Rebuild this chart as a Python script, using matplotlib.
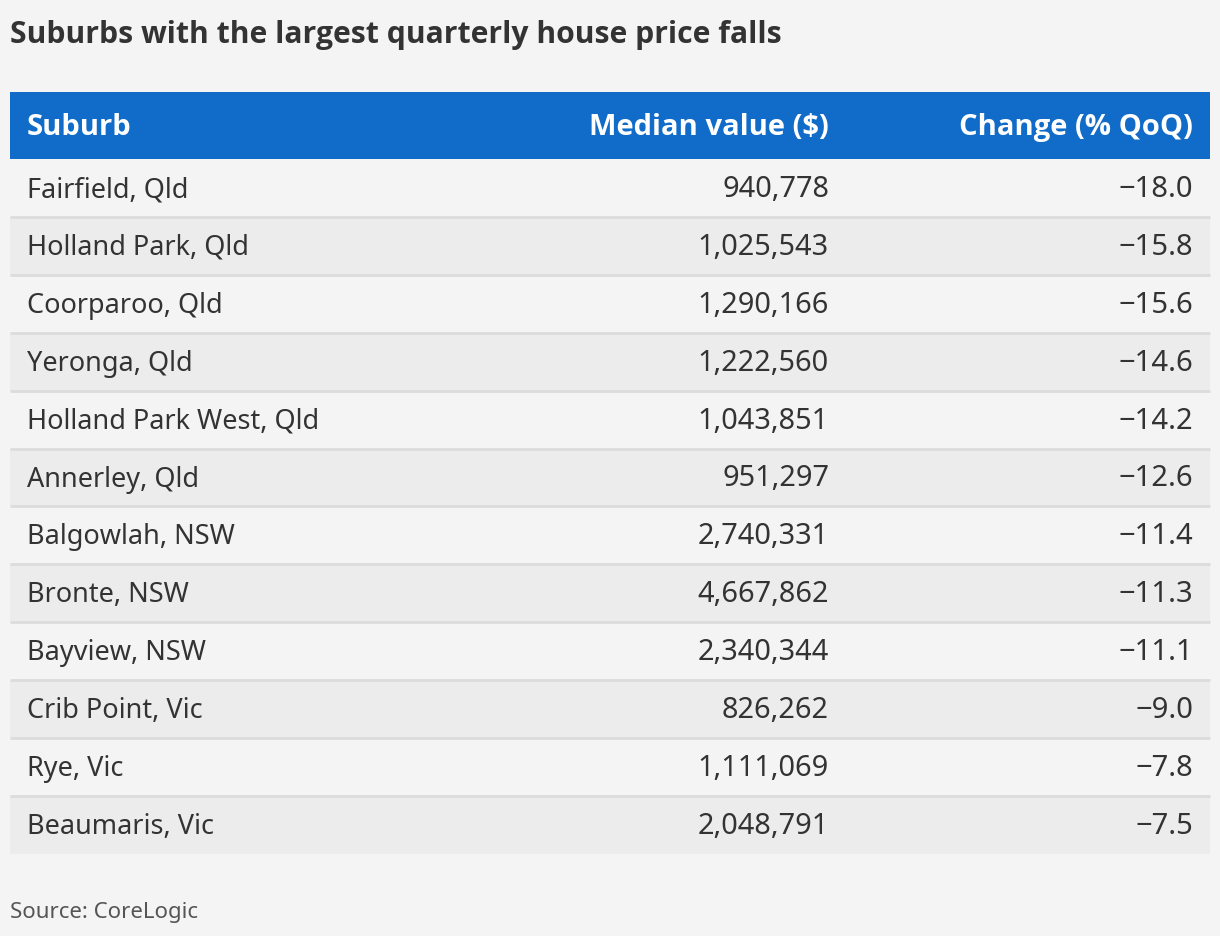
import matplotlib.pyplot as plt
from matplotlib.patches import Rectangle

plt.rcParams['font.family'] = ['Noto Sans', 'DejaVu Sans']
BOLD = ['Open Sans', 'DejaVu Sans']

title = 'Suburbs with the largest quarterly house price falls'
source = 'Source: CoreLogic'
headers = ['Suburb', 'Median value ($)', 'Change (% QoQ)']

suburbs = ['Fairfield, Qld', 'Holland Park, Qld', 'Coorparoo, Qld', 'Yeronga, Qld',
           'Holland Park West, Qld', 'Annerley, Qld', 'Balgowlah, NSW', 'Bronte, NSW',
           'Bayview, NSW', 'Crib Point, Vic', 'Rye, Vic', 'Beaumaris, Vic']
median_value = [940778, 1025543, 1290166, 1222560, 1043851, 951297,
                2740331, 4667862, 2340344, 826262, 1111069, 2048791]
change_qoq = [-18.0, -15.8, -15.6, -14.6, -14.2, -12.6,
              -11.4, -11.3, -11.1, -9.0, -7.8, -7.5]

W, H = 1220, 936
BG = '#f4f4f4'
ROW_ALT = '#ececec'
HEAD = '#106cc8'
TXT = '#333333'

fig = plt.figure(figsize=(W / 100, H / 100), dpi=100, facecolor=BG)
ax = fig.add_axes([0, 0, 1, 1])
ax.set_xlim(0, W)
ax.set_ylim(H, 0)
ax.axis('off')

left, right = 10, 1210
head_top, head_bot = 92, 159
row_h = 57.9
x_cols = [27, 829, 1193]
aligns = ['left', 'right', 'right']
sizes = [19.5, 20.8, 21]

# title
ax.text(10, 43, title, fontsize=21.7, fontweight='bold', family=BOLD, color=TXT, va='baseline')

# header bar
ax.add_patch(Rectangle((left, head_top), right - left, head_bot - head_top,
                       facecolor=HEAD, edgecolor='none'))
for x, ha, h in zip(x_cols, aligns, headers):
    ax.text(x, head_top + 43, h, fontsize=21, fontweight='bold', family=BOLD,
            color='white', ha=ha, va='baseline')

# rows
n = len(suburbs)
for i in range(n):
    top = head_bot + i * row_h
    fc = BG if i % 2 == 0 else ROW_ALT
    ax.add_patch(Rectangle((left, top), right - left, row_h, facecolor=fc, edgecolor='none'))
    if i < n - 1:
        ax.plot([left, right], [top + row_h, top + row_h], color='#dcdcdc', lw=2,
                solid_capstyle='butt')
    vals = [suburbs[i], f'{median_value[i]:,}', f'{change_qoq[i]:.1f}'.replace('-', '\u2212')]
    for x, ha, v, fs in zip(x_cols, aligns, vals, sizes):
        ax.text(x, top + 38, v, fontsize=fs, color=TXT, ha=ha, va='baseline')

# source
ax.text(10, 918, source, fontsize=16, color='#555555', va='baseline')

fig.savefig('out.png', dpi=100, facecolor=BG)
